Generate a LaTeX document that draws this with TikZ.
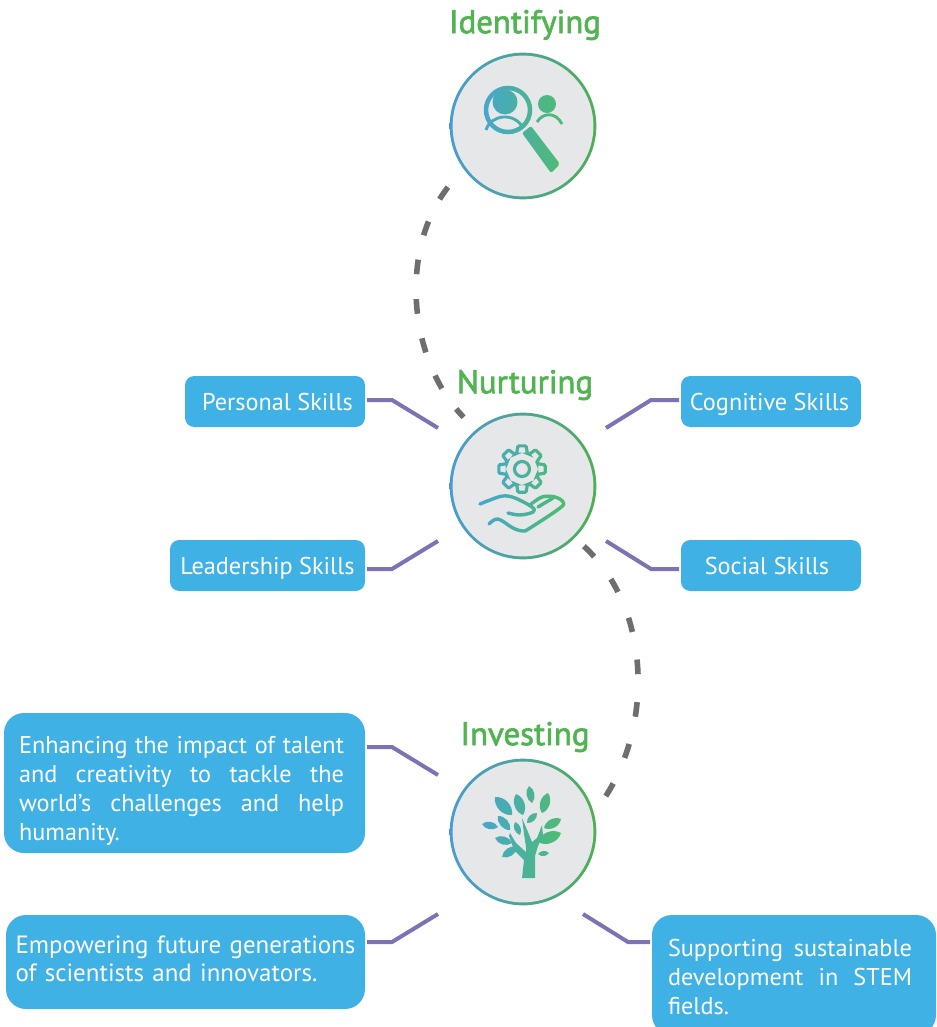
\documentclass[tikz,border=0pt]{standalone}
\usepackage{fontspec}
\setmainfont{PT Sans}
\newfontfamily\titlefont[FakeBold=2]{PT Sans}
\usetikzlibrary{calc,fadings,positioning}

\definecolor{boxblue}{HTML}{3FB1E5}
\definecolor{linkpurple}{HTML}{7F72B4}
\definecolor{dashgrey}{HTML}{6D6E70}
\definecolor{discgrey}{HTML}{E6E7E8}
\definecolor{ringblue}{HTML}{4A9BD2}
\definecolor{ringgreen}{HTML}{4FAF55}
\definecolor{titlegreen}{HTML}{52B352}
\definecolor{iconblue}{HTML}{46A3D8}
\definecolor{icongreen}{HTML}{4FBF63}

\tikzset{
  stage/.style={circle,minimum size=110pt,inner sep=0pt,left color=ringblue,right color=ringgreen,
    path picture={\fill[discgrey] (path picture bounding box.center) circle (52.8pt);}},
  stagetitle/.style={text=titlegreen,font=\titlefont\fontsize{24.6}{28}\selectfont},
  skill/.style={fill=boxblue,text=white,rounded corners=7pt,inner sep=0pt,outer sep=1.5pt,
    font=\fontsize{18.2}{21.75}\selectfont},
  note/.style={skill,rounded corners=15pt,align=left},
  link/.style={draw=linkpurple,line width=3pt},
  pathway/.style={draw=dashgrey,line width=4.2pt}
}

\begin{tikzfadingfrompicture}[name=findicon,x=0.75pt,y=-0.75pt]
\path (473,70) rectangle (573,180);
\fill[white] (505,102) circle (12.5);
\fill[white] (547,104) circle (9);
\draw[white,line width=3.4pt] (508,110) circle (22);
\draw[white,line width=2.2pt] (486,130) .. controls (491,114) and (515,112) .. (523,128);
\draw[white,line width=2.2pt] (537,122) .. controls (543,112) and (556,112) .. (562,124);
\fill[white,rounded corners=1.5pt] (522,133) -- (531,126) -- (560,164) -- (551,173) -- cycle;
\end{tikzfadingfrompicture}

\begin{tikzfadingfrompicture}[name=handicon,x=0.75pt,y=-0.75pt]
\path (473,435) rectangle (573,540);
\begin{scope}[shift={(522,469)},white,line width=2.4pt]
\draw[rounded corners=0.8pt] (-19:16.5) foreach \a in {0,45,...,315} {
  -- ({\a-19}:16.5) -- ({\a-10}:23.5) -- ({\a+10}:23.5) -- ({\a+19}:16.5)} -- cycle;
\draw (0,0) circle (7.5);
\end{scope}
\begin{scope}[white,line width=2.6pt,line cap=round,line join=round]
\draw plot[smooth,tension=0.6] coordinates {(480,504) (490,500) (503,496) (515,498) (532,507) (533,512) (520,515) (508,513)};
\draw plot[smooth,tension=0.6] coordinates {(530,505) (542,497) (555,497) (563,502) (560,508) (530,528) (523,531) (513,528) (498,519) (489,524)};
\draw (538,507) -- (553,498);
\end{scope}
\end{tikzfadingfrompicture}

\begin{tikzfadingfrompicture}[name=treeicon,x=0.75pt,y=-0.75pt]
\path (473,780) rectangle (573,885);
\fill[white] foreach \ax/\ay/\bx/\by in {
  512/815/495/797, 523/815/516/794, 532/803/529/786, 542/813/548/793,
  498/827/482/824, 510/830/498/816, 520/835/515/822, 527/823/537/813,
  544/828/561/819, 538/842/561/833, 512/843/495/838, 502/857/517/847, 538/854/549/853} {
  (\ax,\ay) to[bend left=52] (\bx,\by) to[bend left=52] (\ax,\ay)};
\fill[white] (522,878) -- (535,878) -- (535,856) -- (538,846) -- (543,835) -- (542,825) -- (537,838)
  -- (532,842) -- (528,832) -- (522,818) -- (524,834) -- (526,847) -- (526,852) -- (516,843) -- (510,833)
  -- (509,836) -- (514,850) -- (524,860) -- cycle;
\end{tikzfadingfrompicture}

\begin{document}
\begin{tikzpicture}[x=0.75pt,y=-0.75pt]
\useasboundingbox (0,0) rectangle (936,1027);

\node [stage] (c1) at (523,126) {};
\node [stage] (c2) at (523,486) {};
\node [stage] (c3) at (523,832) {};
\node [stagetitle] (t1) at (525,25) {Identifying};
\node [stagetitle] (t2) at (525,385) {Nurturing};
\node [stagetitle] (t3) at (525,737) {Investing};

\shade [left color=iconblue,right color=icongreen,path fading=findicon,fit fading=false,
  fading transform={shift={(523,125)}}] (473,70) rectangle (573,180);
\shade [left color=iconblue,right color=icongreen,path fading=handicon,fit fading=false,
  fading transform={shift={(523,487.5)}}] (473,435) rectangle (573,540);
\shade [left color=iconblue,right color=icongreen,path fading=treeicon,fit fading=false,
  fading transform={shift={(523,832.5)}}] (473,780) rectangle (573,885);

\draw [pathway,dash pattern=on 11pt off 18.7pt,shorten <=18pt,shorten >=13pt] (c1.215) .. controls (399,250) and (408,360) .. (c2.130);
\draw [pathway,dash pattern=on 11pt off 21pt,shorten <=9pt,shorten >=9pt] (c2.-45) .. controls (653,610) and (653,730) .. (c3.15);

\def\skills{1/275/401.5/180/3.75/{Personal Skills},2/771/401.5/180/-2.2/{Cognitive Skills},3/267.5/565.5/195/0/{Leadership Skills},4/771/565.5/180/-6/{Social Skills}}
\foreach \i/\x/\y/\w/\d/\element in \skills
  \node [skill,text height=16pt,text depth=3.2pt,minimum width=\w*0.75pt,minimum height=38.25pt] (s\i) at (\x,\y) {\hspace*{\d pt}\element};

\node [note,minimum width=270.75pt,minimum height=105pt] (n1) at (184.5,783)
  {\parbox{243.75pt}{\vspace*{12pt}\hyphenpenalty=10000 Enhancing the impact of talent\linebreak and creativity to tackle the\linebreak world's challenges and help\linebreak humanity.}\hspace{4.5pt}};
\node [note,font=\fontsize{18.7}{21.75}\selectfont,text width=255pt,minimum width=269.25pt,minimum height=70.5pt] (n2) at (185.5,962)
  {Empowering future generations\\[-0.8pt]of scientists and innovators.\par\vspace{5pt}};
\node [note,minimum width=213pt,minimum height=90pt] (n3) at (794,975)
  {\parbox{183pt}{\vspace*{3pt}\hyphenpenalty=10000 Supporting sustainable\linebreak development in STEM\linebreak fields.}\hspace{6pt}};

\coordinate (a1) at (438,428);
\coordinate (a2) at (606,428);
\coordinate (a3) at (438,541);
\coordinate (a4) at (606,541);
\coordinate (a5) at (438,775);
\coordinate (a6) at (438,914);
\coordinate (a7) at (583,914);
\coordinate (b1) at (392,400);
\coordinate (b2) at (651,400);
\coordinate (b3) at (392,569);
\coordinate (b4) at (651,569);
\coordinate (b5) at (392,747);
\coordinate (b6) at (392,942);
\coordinate (b7) at (628,942);

\draw [link] (a1) -- (b1) -- (b1 -| s1.east);
\draw [link] (a2) -- (b2) -- (b2 -| s2.west);
\draw [link] (a3) -- (b3) -- (b3 -| s3.east);
\draw [link] (a4) -- (b4) -- (b4 -| s4.west);
\draw [link] (a5) -- (b5) -- (b5 -| n1.east);
\draw [link] (a6) -- (b6) -- (b6 -| n2.east);
\draw [link] (a7) -- (b7) -- (b7 -| n3.west);

\end{tikzpicture}
\end{document}
